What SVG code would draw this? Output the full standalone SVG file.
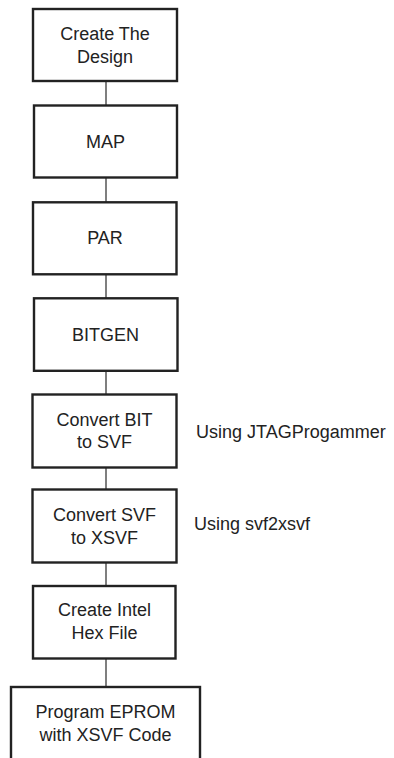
<svg xmlns="http://www.w3.org/2000/svg" width="394" height="758" viewBox="0 0 394 758">
<style>
.box{fill:#fff;stroke:#222;stroke-width:2.4}
.t{font-family:"Liberation Sans",Arial,sans-serif;font-size:18px;fill:#222;text-anchor:middle}
.s{font-family:"Liberation Sans",Arial,sans-serif;font-size:18px;fill:#222}
.c{stroke:#555;stroke-width:1.5;fill:none}
</style>
<rect width="394" height="758" fill="#fff"/>
<g id="connectors">
<line class="c" x1="106" y1="81" x2="106" y2="105"/>
<line class="c" x1="106" y1="178" x2="106" y2="202"/>
<line class="c" x1="106" y1="274" x2="106" y2="298"/>
<line class="c" x1="106" y1="371" x2="106" y2="394"/>
<line class="c" x1="106" y1="467" x2="106" y2="489"/>
<line class="c" x1="106" y1="563" x2="106" y2="586"/>
<line class="c" x1="106" y1="658" x2="106" y2="687"/>
</g>
<g id="n1"><rect class="box" x="33" y="9" width="144" height="72"/><text class="t" x="105" y="40">Create The</text><text class="t" x="105" y="62.7">Design</text></g>
<g id="n2"><rect class="box" x="34" y="105.5" width="143" height="72"/><text class="t" x="105.5" y="147.7">MAP</text></g>
<g id="n3"><rect class="box" x="33" y="202.3" width="143.5" height="72"/><text class="t" x="105" y="243.5">PAR</text></g>
<g id="n4"><rect class="box" x="34" y="298.3" width="143.5" height="72.5"/><text class="t" x="105.5" y="340.7">BITGEN</text></g>
<g id="n5"><rect class="box" x="32.5" y="394.5" width="144" height="73"/><text class="t" x="104.5" y="425.7">Convert BIT</text><text class="t" x="104.5" y="447.7">to SVF</text></g>
<g id="n6"><rect class="box" x="32.5" y="489.5" width="144" height="73"/><text class="t" x="104.5" y="520.7">Convert SVF</text><text class="t" x="104.5" y="544">to XSVF</text></g>
<g id="n7"><rect class="box" x="33" y="586" width="142.5" height="72.5"/><text class="t" x="104.5" y="615.7">Create Intel</text><text class="t" x="104.5" y="639">Hex File</text></g>
<g id="n8"><rect class="box" x="11" y="687" width="189" height="90"/><text class="t" x="105.5" y="717.7">Program EPROM</text><text class="t" x="105.5" y="741">with XSVF Code</text></g>
<g id="labels">
<text class="s" x="196" y="437.7">Using JTAGProgammer</text>
<text class="s" x="194" y="530">Using svf2xsvf</text>
</g>
</svg>
